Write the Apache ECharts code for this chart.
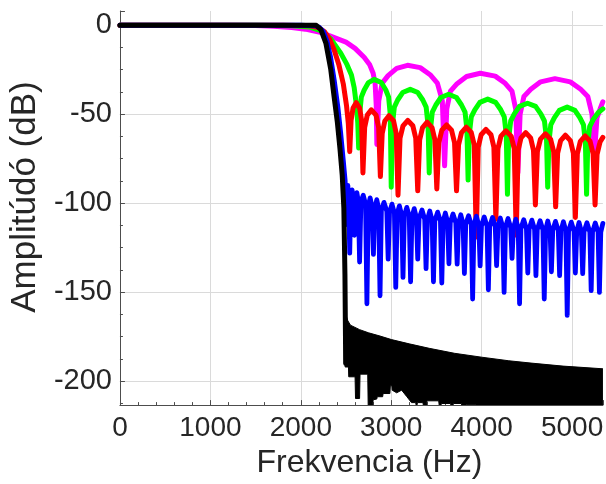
<!DOCTYPE html>
<html>
<head>
<meta charset="utf-8">
<script src="https://cdn.jsdelivr.net/npm/echarts@6/dist/echarts.min.js"></script>
<style>html,body{margin:0;padding:0;background:#fff}#c{width:606px;height:484px}</style>
</head>
<body>
<div id="c"></div>
<script>
// [frequency Hz, amplitude dB]
const magenta = [[0,0],[1200,0],[1500,-0.2],[1700,-0.6],[1900,-1.3],[2050,-2.2],[2200,-3.8],[2300,-5.6],[2400,-7.5],[2500,-9.5],[2600,-13],[2700,-18],[2760,-22],[2800,-27],[2822,-33],[2834,-45],[2841,-67],[2862,-42.5],[2900,-32.5],[2965,-28.3],[3060,-24.2],[3180,-22.5],[3320,-23.8],[3430,-27.8],[3510,-32.5],[3565,-42.5],[3590,-79],[3614,-47],[3655,-37],[3728,-32.8],[3833,-28.8],[3985,-27],[4150,-28.6],[4260,-32.6],[4335,-37],[4376,-47],[4400,-83],[4425,-50],[4467,-40],[4543,-36],[4652,-31.8],[4810,-30],[4980,-31.8],[5095,-36],[5173,-40],[5220,-50],[5248,-72],[5275,-52],[5317,-46],[5340,-43]];

const green = [[0,0],[1500,0],[1900,-0.3],[2100,-1],[2220,-3],[2330,-7.5],[2440,-15.5],[2510,-22],[2560,-28],[2590,-35],[2615,-45],[2630,-55],[2640,-69],[2651,-50],[2669,-40.4],[2701,-36.4],[2748,-32.2],[2810,-30.4],[2890,-32.2],[2940,-36.4],[2971,-40.4],[2989,-50],[3000,-91],[3013,-56],[3034,-46],[3071,-42],[3126,-37.8],[3210,-36],[3294,-37.8],[3349,-42],[3386,-46],[3407,-56],[3420,-83],[3433,-58.8],[3454,-48.8],[3493,-44.8],[3549,-40.6],[3635,-38.8],[3721,-40.6],[3777,-44.8],[3816,-48.8],[3837,-58.8],[3850,-87],[3863,-61.5],[3885,-51.5],[3924,-47.5],[3980,-43.3],[4067,-41.5],[4154,-43.3],[4211,-47.5],[4250,-51.5],[4272,-61.5],[4285,-95],[4298,-63.8],[4321,-53.8],[4361,-49.8],[4418,-45.6],[4507,-43.8],[4596,-45.6],[4654,-49.8],[4694,-53.8],[4717,-63.8],[4730,-91],[4743,-66],[4764,-56],[4803,-52],[4859,-47.8],[4945,-46],[5031,-47.8],[5087,-52],[5126,-56],[5147,-66],[5160,-95],[5173,-67],[5194,-57],[5233,-53],[5290,-49],[5340,-47]];

const red = [[0,0],[1800,0],[2100,-0.3],[2200,-1.5],[2260,-3.5],[2320,-8],[2370,-14],[2420,-22],[2470,-33],[2505,-45],[2525,-55],[2541,-71],[2556,-53.5],[2578,-46.5],[2612,-43.5],[2651,-46.5],[2672,-53.5],[2687,-83],[2706,-57.5],[2735,-50.5],[2780,-47.5],[2832,-50.5],[2861,-57.5],[2880,-85],[2900,-60.8],[2929,-53.8],[2975,-50.8],[3026,-53.8],[3055,-60.8],[3075,-95.5],[3097,-63.5],[3130,-56.5],[3183,-53.5],[3239,-56.5],[3271,-63.5],[3293,-93],[3314,-64.5],[3346,-57.5],[3397,-54.5],[3451,-57.5],[3483,-64.5],[3504,-92],[3526,-66],[3559,-59],[3612,-56],[3667,-59],[3700,-66],[3722,-93],[3744,-67.3],[3777,-60.3],[3830,-57.3],[3885,-60.3],[3918,-67.3],[3940,-119],[3962,-68.5],[3994,-61.5],[4047,-58.5],[4103,-61.5],[4135,-68.5],[4157,-109],[4180,-69.3],[4213,-62.3],[4268,-59.3],[4326,-62.3],[4360,-69.3],[4382,-118],[4403,-70.3],[4435,-63.3],[4487,-60.3],[4541,-63.3],[4573,-70.3],[4594,-101],[4616,-71],[4650,-64],[4705,-61],[4762,-64],[4796,-71],[4818,-102],[4840,-71.8],[4873,-64.8],[4926,-61.8],[4981,-64.8],[5014,-71.8],[5036,-108],[5058,-72.2],[5091,-65.2],[5144,-62.2],[5199,-65.2],[5232,-72.2],[5254,-101],[5276,-72.5],[5309,-65.5],[5340,-63]];

const blue = [[0,0],[2000,0],[2150,-0.3],[2200,-1],[2250,-3.5],[2290,-9],[2330,-18],[2370,-31],[2410,-46],[2440,-60],[2470,-76],[2490,-87],[2500,-100],[2510,-112],[2520,-90],
[2528,-96],[2541,-128],[2554,-96],[2567,-92.5],[2580,-97],[2593,-118],[2606,-98],[2620,-94],[2636,-99],[2650,-133],[2665,-99],[2690,-95.5],[2716,-100.5],[2731,-156.5],[2746,-101.5],[2767,-97],[2788,-102],[2803,-128.7],[2818,-103],[2840,-98],[2861,-103],[2876,-152],[2891,-104],[2920,-99.5],[2951,-104.5],[2966,-131.4],[2981,-105],[3008,-100.5],[3035,-105.5],[3050,-147.3],[3065,-106],[3090,-101.5],[3115,-106.5],[3130,-141.7],[3145,-107],[3172,-102.3],[3199,-107.3],[3214,-144.1],[3229,-107.8],[3254,-103],[3278,-108],[3293,-131.4],[3308,-108.5],[3340,-103.8],[3370,-109],[3385,-136.7],[3400,-109.2],[3426,-104.4],[3452,-109.6],[3467,-144.1],[3482,-109.8],[3513,-105],[3544,-110],[3559,-144.8],[3574,-110.3],[3598,-105.5],[3623,-110.5],[3638,-134],[3653,-110.8],[3683,-106],[3714,-111],[3729,-134.2],[3744,-111.3],[3769,-106.5],[3794,-111.5],[3809,-139.5],[3824,-111.8],[3855,-107],[3885,-112],[3900,-153.8],[3915,-112.2],[3942,-107.3],[3968,-112.4],[3983,-135.2],[3998,-112.6],[4028,-107.7],[4059,-112.8],[4074,-148.6],[4089,-113],[4120,-108],[4150,-113.1],[4165,-135],[4180,-113.2],[4206,-108.3],[4233,-113.4],[4248,-150.1],[4263,-113.5],[4292,-108.6],[4321,-113.7],[4336,-131],[4351,-113.8],[4378,-109],[4404,-114],[4419,-156.5],[4434,-114.2],[4465,-109.3],[4495,-114.4],[4510,-139.2],[4525,-114.5],[4555,-109.5],[4585,-114.6],[4600,-140.7],[4615,-114.7],[4646,-109.8],[4677,-114.9],[4692,-153.8],[4707,-115],[4731,-110],[4756,-115.1],[4771,-138.5],[4786,-115.2],[4816,-110.2],[4847,-115.3],[4862,-140.7],[4877,-115.4],[4904,-110.4],[4931,-115.5],[4946,-163],[4961,-115.6],[4991,-110.6],[5021,-115.7],[5036,-139.2],[5051,-115.8],[5077,-110.8],[5102,-115.9],[5117,-139.5],[5132,-116],[5164,-111],[5196,-116.1],[5211,-149.1],[5226,-116.1],[5256,-111.1],[5287,-116.2],[5302,-150.1],[5317,-116.2],[5340,-111.3]];

const black = [[0,0],[2170,0],[2222,-2.5],[2277,-10],[2331,-24.8],[2367,-39.7],[2404,-54.5],[2433,-69.4],[2458,-84.3],[2476,-102.8],[2488,-140],[2494,-175],[2496,-190]];

// black stopband: upper edge (envelope) and lower edge of the filled band
const blackTop = [[2490,-160],[2500,-163],[2520,-166],[2549,-168.5],[2650,-171],[2750,-172.8],[2876,-174.6],[3003,-176.6],[3200,-179],[3420,-181.5],[3700,-184.3],[4001,-186.5],[4300,-188.5],[4546,-189.8],[4900,-191.5],[5340,-193]];
const blackFloor = [[2490,-192],[2527,-192],[2530,-197.5],[2600,-197.5],[2605,-209.7],[2650,-209.7],[2655,-196],[2740,-196],[2745,-213.4],[2795,-213.4],[2800,-210.4],[2840,-210],[2845,-208.7],[2905,-208.7],[2910,-206.9],[2985,-206.9],[2990,-202.5],[3007,-202.5],[3010,-205],[3060,-206.5],[3115,-205],[3170,-208.5],[3224,-212],[3270,-212],[3275,-213.4],[3285,-213.4],[3290,-212],[3350,-212],[3355,-213.4],[3390,-213.4],[3395,-211],[3525,-211],[3530,-213.4],[3550,-213.4],[3555,-212.5],[3655,-212.5],[3660,-213.4],[3682,-213.4],[3690,-212.5],[3775,-212.5],[3780,-213.4],[3824,-213.4],[3830,-213],[3930,-213],[3935,-213.4],[5340,-213.4]];

const xMin = 0, xMax = 5340, xStep = 1000;
const yMin = -213.4, yMax = 8;

const FONT = "'Liberation Sans', Arial, sans-serif";
const TXT = '#262626';
const chart = echarts.init(document.getElementById('c'), null, {renderer:'canvas'});

function lineSeries(data, color, w){
  return {type:'line', data:data, showSymbol:false, symbol:'none', animation:false,
    lineStyle:{color:color, width:w, cap:'round', join:'round'}, clip:true, silent:true};
}

chart.setOption({
  animation:false,
  backgroundColor:'#fff',
  grid:{left:116, right:0, top:11, bottom:76, containLabel:false},
  xAxis:{
    type:'value', min:xMin, max:xMax, interval:xStep,
    name:'Frekvencia (Hz)', nameLocation:'middle', nameGap:39,
    nameTextStyle:{fontFamily:FONT, fontSize:32, color:TXT, padding:[0,0,0,16]},
    axisLine:{show:true, onZero:false, lineStyle:{color:'#4d4d4d', width:1}},
    axisTick:{show:true, inside:true, length:5, lineStyle:{color:'#4d4d4d'}},
    minorTick:{show:true, splitNumber:5, length:3, lineStyle:{color:'#4d4d4d'}},
    axisLabel:{fontFamily:FONT, fontSize:28, color:TXT, margin:9, showMaxLabel:false,
      formatter:function(v){return String(v);}},
    splitLine:{show:true, showMaxLine:false, lineStyle:{color:'#dadada', width:1}}
  },
  yAxis:{
    type:'value', min:yMin, max:yMax, splitNumber:5,
    name:'Amplitúdó (dB)', nameLocation:'middle', nameGap:68,
    nameTextStyle:{fontFamily:FONT, fontSize:35, color:TXT, padding:[0,0,0,22]},
    axisLine:{show:true, onZero:false, lineStyle:{color:'#4d4d4d', width:1}},
    axisTick:{show:true, inside:true, length:5, lineStyle:{color:'#4d4d4d'}},
    minorTick:{show:true, splitNumber:4, length:3, lineStyle:{color:'#4d4d4d'}},
    axisLabel:{fontFamily:FONT, fontSize:29, color:TXT, margin:8, showMinLabel:false, showMaxLabel:false,
      formatter:function(v){return String(v);}},
    splitLine:{show:true, showMinLine:false, showMaxLine:false, lineStyle:{color:'#dadada', width:1}}
  },
  series:[
    lineSeries(magenta, '#ff00ff', 5),
    lineSeries(green, '#00ff00', 5),
    lineSeries(red, '#ff0000', 5),
    lineSeries(blue, '#0000ff', 4.8),
    lineSeries(black, '#000000', 5),
    {
      type:'custom', clip:true, silent:true, animation:false,
      data:[[blackTop[0][0], blackTop[0][1]]],
      renderItem:function(params, api){
        const pts = blackTop.map(p => api.coord(p)).concat(blackFloor.slice().reverse().map(p => api.coord(p)));
        return {type:'polygon', shape:{points:pts}, style:{fill:'#000', stroke:'#000', lineWidth:1}};
      }
    }
  ]
});
</script>
</body>
</html>
